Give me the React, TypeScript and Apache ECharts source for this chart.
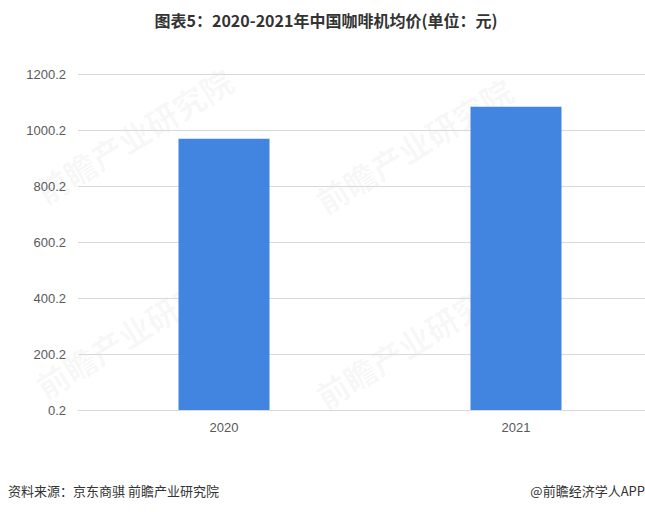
import React, { useEffect, useRef } from "react";
import * as echarts from "echarts";

const categories = ["2020", "2021"];
const avgPrice = [969, 1083];
const yTickLabels = ["0.2", "200.2", "400.2", "600.2", "800.2", "1000.2", "1200.2"];
const titleText = "图表5：2020-2021年中国咖啡机均价(单位：元)";
const sourceText = "资料来源：京东商骐 前瞻产业研究院";
const brandText = "@前瞻经济学人APP";
const watermarkText = "前瞻产业研究院";

const watermarkSpots = [
  [30, 180], [310, 190], [30, 375], [310, 385]
];

const CHART_W = 662;
const VIEW_W = 645;

export default function App() {
  const ref = useRef<HTMLDivElement>(null);
  useEffect(() => {
    if (!ref.current) return;
    const chart = echarts.init(ref.current, null, { renderer: "svg" });
    const fontFamily = "'Noto Sans CJK SC', 'Liberation Sans', sans-serif";
    chart.setOption({
      animation: false,
      backgroundColor: "#ffffff",
      grid: { left: 78, right: 0, top: 74, bottom: 102, containLabel: false },
      xAxis: {
        type: "category",
        data: categories,
        axisLine: { lineStyle: { color: "#d9d9d9" } },
        axisTick: { show: false },
        axisLabel: { color: "#595959", fontSize: 13, margin: 11, fontFamily: "'Liberation Sans', sans-serif" },
      },
      yAxis: {
        type: "value",
        min: 0,
        max: 1200,
        interval: 200,
        axisLine: { show: false },
        axisTick: { show: false },
        splitLine: { lineStyle: { color: "#d9d9d9" } },
        axisLabel: {
          color: "#595959",
          fontSize: 13,
          margin: 12,
          fontFamily: "'Liberation Sans', sans-serif",
          formatter: (v: number) => yTickLabels[Math.round(v / 200)] ?? "",
        },
      },
      series: [
        {
          type: "bar",
          data: avgPrice,
          barWidth: 91,
          itemStyle: { color: "#4285e1" },
        },
      ],
      graphic: [
        ...watermarkSpots.map(([x, y]) => ({
          type: "text",
          x,
          y,
          rotation: 0.55,
          silent: true,
          z: -1,
          style: {
            text: watermarkText,
            fontSize: 32,
            fontWeight: "bold",
            fill: "rgba(0,0,0,0.04)",
            fontFamily,
          },
        })),
        {
          type: "text",
          x: 326,
          y: 12,
          style: {
            text: titleText,
            fontSize: 16,
            fontWeight: "bold",
            fill: "#333333",
            fontFamily,
            textAlign: "center",
            textVerticalAlign: "top",
          },
        },
        {
          type: "text",
          x: 8,
          y: 484,
          style: { text: sourceText, fontSize: 13, fill: "#333333", fontFamily },
        },
        {
          type: "text",
          x: VIEW_W,
          y: 484,
          style: { text: brandText, fontSize: 13, fill: "#333333", fontFamily, textAlign: "right" },
        },
      ],
    });
    return () => chart.dispose();
  }, []);
  return (
    <div style={{ position: "absolute", left: 0, top: 0, width: VIEW_W, height: 512, overflow: "hidden" }}>
      <div ref={ref} style={{ width: CHART_W, height: 512 }} />
    </div>
  );
}
